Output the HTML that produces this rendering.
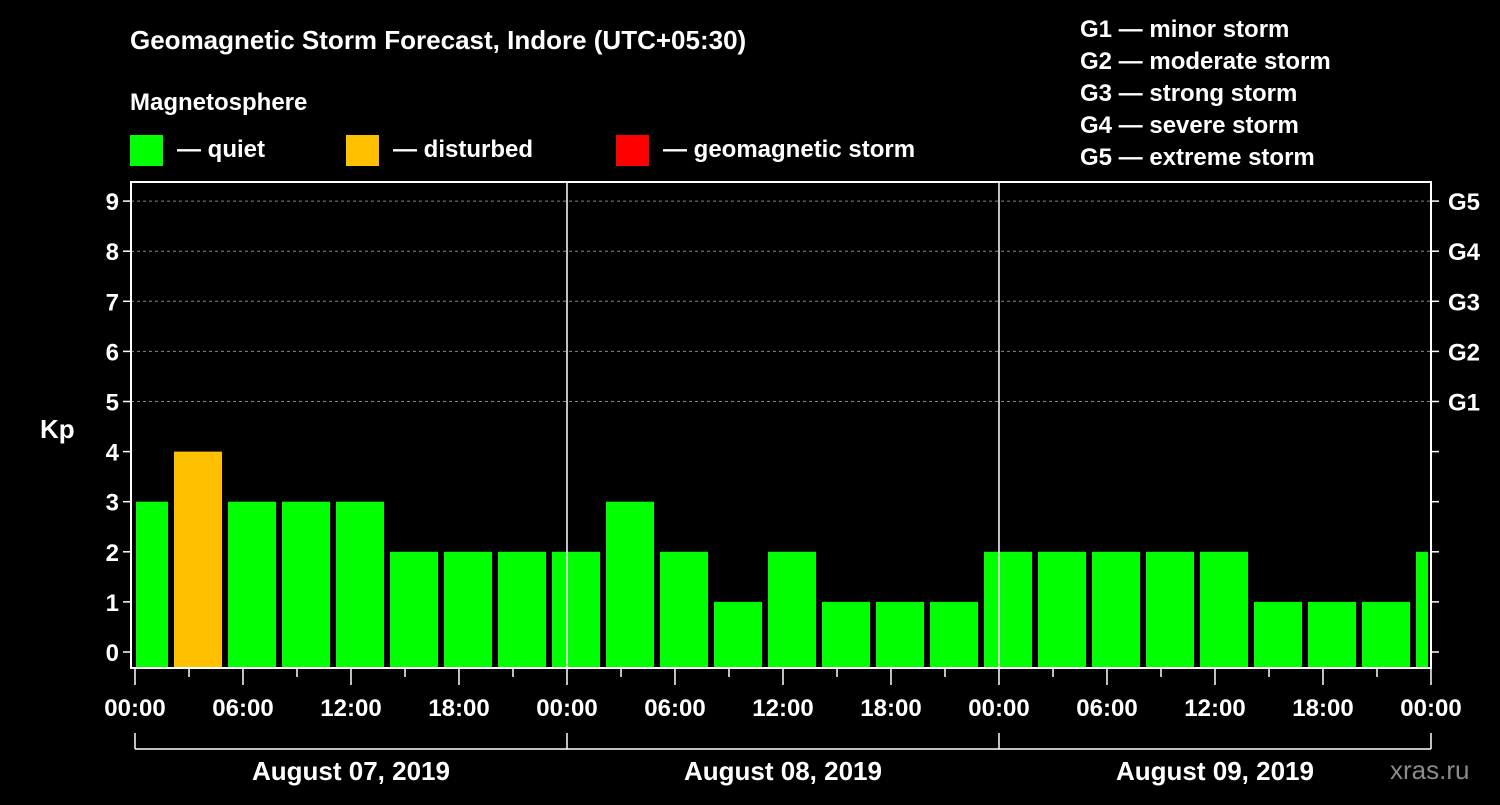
<!DOCTYPE html>
<html><head><meta charset="utf-8"><style>
body{margin:0;background:#000;width:1500px;height:800px;overflow:hidden}
svg text{font-family:"Liberation Sans",sans-serif;font-weight:bold;fill:#fff}
</style></head><body>
<svg id="c" width="1500" height="800" xmlns="http://www.w3.org/2000/svg">
<rect width="1500" height="800" fill="#000"/>
<text x="130" y="49" font-size="26">Geomagnetic Storm Forecast, Indore (UTC+05:30)</text>
<text x="130" y="110" font-size="24">Magnetosphere</text>
<g><rect x="130" y="135" width="33" height="31" fill="#00ff00"/><text x="177" y="157" font-size="24">— quiet</text></g>
<g><rect x="346" y="135" width="33" height="31" fill="#ffc000"/><text x="393" y="157" font-size="24">— disturbed</text></g>
<g><rect x="616" y="135" width="33" height="31" fill="#ff0000"/><text x="663" y="157" font-size="24">— geomagnetic storm</text></g>
<g font-size="24">
<text x="1080" y="37">G1 — minor storm</text>
<text x="1080" y="69">G2 — moderate storm</text>
<text x="1080" y="101">G3 — strong storm</text>
<text x="1080" y="133">G4 — severe storm</text>
<text x="1080" y="165">G5 — extreme storm</text>
</g>
<text x="40" y="438" font-size="26">Kp</text>
<text x="1390" y="779" font-size="26" fill="#888" style="fill:#8a8a8a;font-weight:normal">xras.ru</text>
<g id="plot"></g>
</svg>
<script>
const kpValues=[3,4,3,3,3,2,2,2,2,3,2,1,2,1,1,1,2,2,2,2,2,1,1,1,2];
const yTicks=[0,1,2,3,4,5,6,7,8,9];
const gLabels=["G1","G2","G3","G4","G5"];
const hourLabels=["00:00","06:00","12:00","18:00"];
const dayLabels=["August 07, 2019","August 08, 2019","August 09, 2019"];
const X0=135,PXH=18,L=131,R=1431,T=182,B=668;
const xs=h=>X0+h*PXH;
const ys=v=>652-v*50.1;
const NS="http://www.w3.org/2000/svg";
const plot=document.getElementById('plot');
function mk(tag,attrs,parent){const e=document.createElementNS(NS,tag);for(const k in attrs)e.setAttribute(k,attrs[k]);(parent||plot).appendChild(e);return e;}
// grid
for(const v of yTicks){if(v>=5){const g=mk('line',{x1:L,x2:R,y1:ys(v),y2:ys(v),stroke:'#888','stroke-dasharray':'3,3','stroke-width':1});

}}
// bars: 3h intervals starting at -1h (local)
kpValues.forEach((v,i)=>{let s=xs(-1+3*i)+3,e=xs(2+3*i)-3;s=Math.max(s,L+5);e=Math.min(e,R-3);
const r=mk('rect',{x:s,y:ys(v),width:e-s,height:B-ys(v),fill:v>=5?'#ff0000':(v>=4?'#ffc000':'#00ff00')});

});
// day separators
for(let d=1;d<3;d++){const l=mk('line',{x1:xs(24*d),x2:xs(24*d),y1:T,y2:B,stroke:'#fff','stroke-width':1.5});

}
// frame
const f=mk('rect',{x:L,y:T,width:R-L,height:B-T,fill:'none',stroke:'#fff','stroke-width':2});


// y ticks
for(const v of yTicks){const y=ys(v);
mk('line',{x1:L-8,x2:L,y1:y,y2:y,stroke:'#fff','stroke-width':1.5});
mk('line',{x1:R,x2:R+8,y1:y,y2:y,stroke:'#fff','stroke-width':1.5});
const t=mk('text',{x:L-12,y:y+9,'font-size':24,'text-anchor':'end'});t.textContent=v;

}
gLabels.forEach((g,i)=>{const t=mk('text',{x:1448,y:ys(5+i)+9,'font-size':24});t.textContent=g;

});
// x ticks
for(let h=0;h<=72;h+=3){const maj=h%6===0;mk('line',{x1:xs(h),x2:xs(h),y1:B,y2:B+(maj?17:9),stroke:'#fff','stroke-width':1.5});}
for(let h=0;h<=72;h+=6){const t=mk('text',{x:xs(h),y:716,'font-size':24,'text-anchor':'middle'});t.textContent=hourLabels[(h/6)%4];

}
// day brackets
mk('line',{x1:xs(0),x2:xs(72),y1:749,y2:749,stroke:'#fff','stroke-width':1.5});
for(let d=0;d<=3;d++)mk('line',{x1:xs(24*d),x2:xs(24*d),y1:733,y2:749,stroke:'#fff','stroke-width':1.5});
dayLabels.forEach((d,i)=>{const t=mk('text',{x:xs(24*i+12),y:780,'font-size':26,'text-anchor':'middle'});t.textContent=d;

});
</script>
</body></html>
